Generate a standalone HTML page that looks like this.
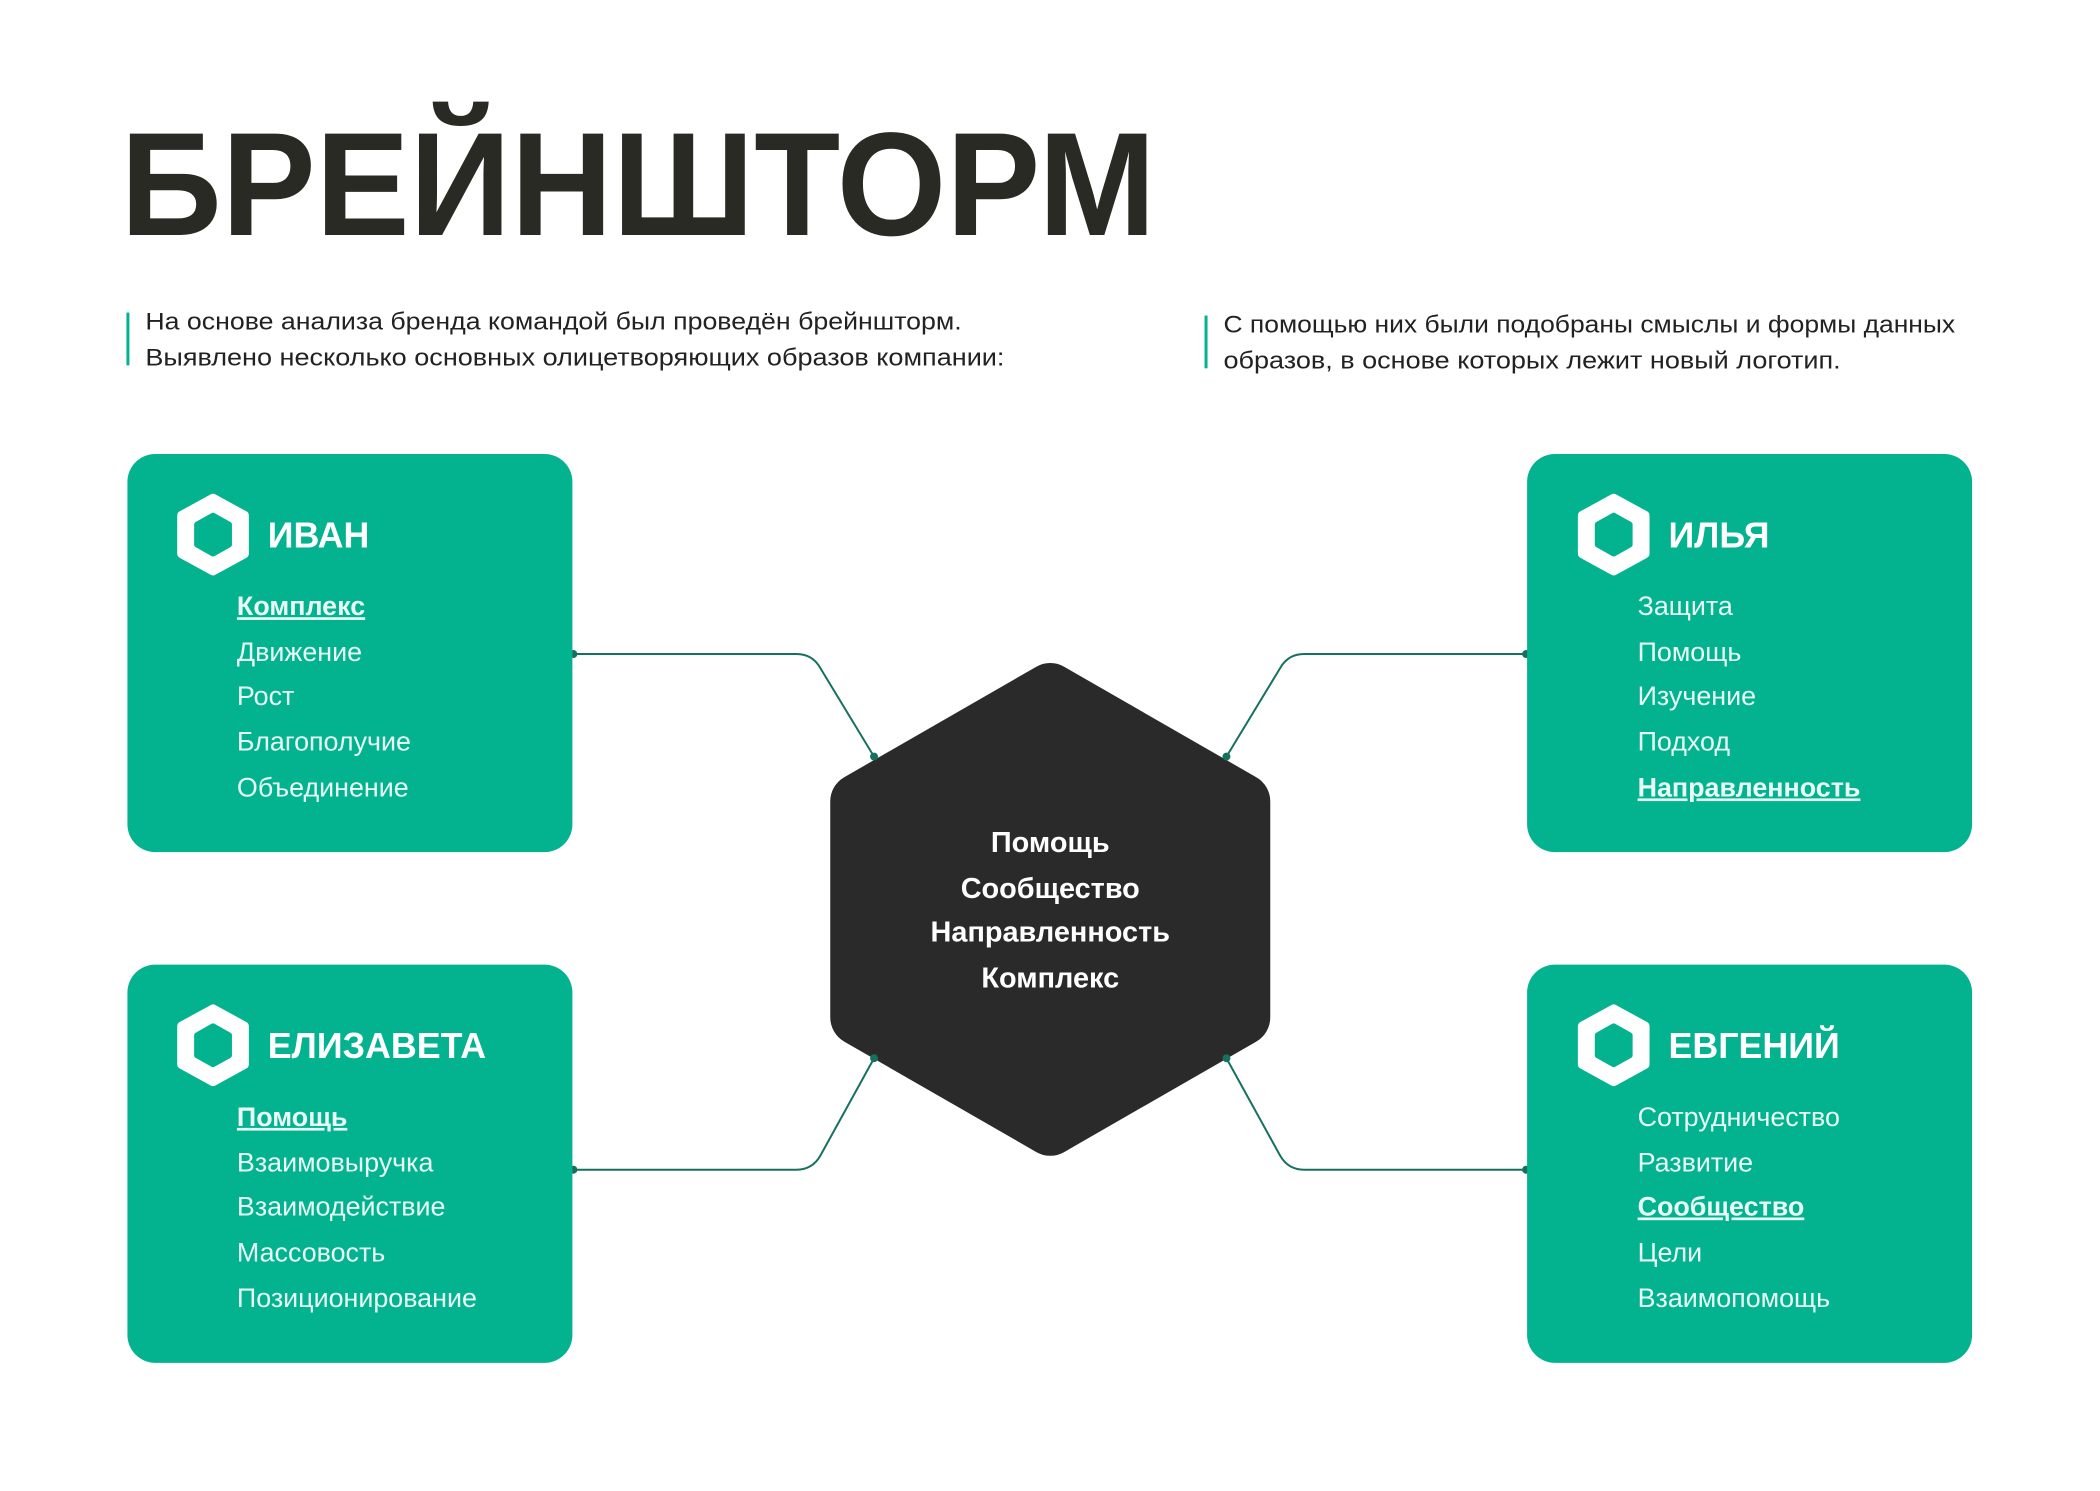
<!DOCTYPE html>
<html><head><meta charset="utf-8"><style>
html,body{margin:0;padding:0;background:#fff}
svg{display:block}
text{font-family:"Liberation Sans",sans-serif}
.u{text-decoration:underline}
</style></head><body>
<svg width="2100" height="1491" viewBox="0 0 2100 1491" xmlns="http://www.w3.org/2000/svg">
<defs>
<g id="ic">
<polygon points="0,-36 31,-19 31,19 0,36 -31,19 -31,-19" fill="#fff" stroke="#fff" stroke-width="10" stroke-linejoin="round"/>
<polygon points="0,-19 16,-10 16,10 0,19 -16,10 -16,-10" fill="#03b28f" stroke="#03b28f" stroke-width="6" stroke-linejoin="round"/>
</g>
</defs>
<g transform="scale(0.9955)">
<text x="121" y="236" font-size="148" font-weight="bold" fill="#2a2a25" textLength="1040" lengthAdjust="spacingAndGlyphs">БРЕЙНШТОРМ</text>
<rect x="127" y="314" width="3" height="53" fill="#03b28f"/>
<text x="146" y="331" font-size="24" fill="#222" textLength="820" lengthAdjust="spacingAndGlyphs">На основе анализа бренда командой был проведён брейншторм.</text>
<text x="146" y="367" font-size="24" fill="#222" textLength="863" lengthAdjust="spacingAndGlyphs">Выявлено несколько основных олицетворяющих образов компании:</text>
<rect x="1210" y="317" width="3" height="53" fill="#03b28f"/>
<text x="1229" y="334" font-size="24" fill="#222" textLength="735" lengthAdjust="spacingAndGlyphs">С помощью них были подобраны смыслы и формы данных</text>
<text x="1229" y="370" font-size="24" fill="#222" textLength="620" lengthAdjust="spacingAndGlyphs">образов, в основе которых лежит новый логотип.</text>

<g fill="none" stroke="#16705f" stroke-width="2">
<path d="M575,657 H800 Q816,657 824,671 L878,760"/>
<path d="M575,1175 H800 Q816,1175 824,1161 L878,1063"/>
<path d="M1534,657 H1310 Q1294,657 1286,671 L1232,760"/>
<path d="M1534,1175 H1310 Q1294,1175 1286,1161 L1232,1063"/>
</g>
<g fill="#16705f">
<circle cx="576" cy="657" r="4"/><circle cx="576" cy="1175" r="4"/>
<circle cx="1533" cy="657" r="4"/><circle cx="1533" cy="1175" r="4"/>
</g>

<polygon points="1055,694 1248,805 1248,1022 1055,1133 862,1022 862,805" fill="#2a2a2a" stroke="#2a2a2a" stroke-width="56" stroke-linejoin="round"/>
<circle cx="878" cy="760" r="4" fill="#16705f"/><circle cx="878" cy="1063" r="4" fill="#16705f"/>
<circle cx="1232" cy="760" r="4" fill="#16705f"/><circle cx="1232" cy="1063" r="4" fill="#16705f"/>
<g font-size="29" font-weight="bold" fill="#fff" text-anchor="middle">
<text x="1055" y="856">Помощь</text>
<text x="1055" y="902">Сообщество</text>
<text x="1055" y="946">Направленность</text>
<text x="1055" y="992">Комплекс</text>
</g>

<g fill="#03b28f">
<rect x="128" y="456" width="447" height="400" rx="28"/>
<rect x="1534" y="456" width="447" height="400" rx="28"/>
<rect x="128" y="969" width="447" height="400" rx="28"/>
<rect x="1534" y="969" width="447" height="400" rx="28"/>
</g>
<use href="#ic" x="214" y="537"/>
<use href="#ic" x="1621" y="537"/>
<use href="#ic" x="214" y="1050"/>
<use href="#ic" x="1621" y="1050"/>
<g font-size="36" font-weight="bold" fill="#fff">
<text x="269" y="550">ИВАН</text>
<text x="1676" y="550">ИЛЬЯ</text>
<text x="269" y="1063">ЕЛИЗАВЕТА</text>
<text x="1676" y="1063">ЕВГЕНИЙ</text>
</g>
<g font-size="27" fill="#e8fbf5">
<text x="238" y="618" font-weight="bold" class="u">Комплекс</text>
<text x="238" y="664">Движение</text>
<text x="238" y="708">Рост</text>
<text x="238" y="754">Благополучие</text>
<text x="238" y="800">Объединение</text>

<text x="1645" y="618">Защита</text>
<text x="1645" y="664">Помощь</text>
<text x="1645" y="708">Изучение</text>
<text x="1645" y="754">Подход</text>
<text x="1645" y="800" font-weight="bold" class="u">Направленность</text>

<text x="238" y="1131" font-weight="bold" class="u">Помощь</text>
<text x="238" y="1177">Взаимовыручка</text>
<text x="238" y="1221">Взаимодействие</text>
<text x="238" y="1267">Массовость</text>
<text x="238" y="1313">Позиционирование</text>

<text x="1645" y="1131">Сотрудничество</text>
<text x="1645" y="1177">Развитие</text>
<text x="1645" y="1221" font-weight="bold" class="u">Сообщество</text>
<text x="1645" y="1267">Цели</text>
<text x="1645" y="1313">Взаимопомощь</text>
</g>
</g>
</svg>
</body></html>
